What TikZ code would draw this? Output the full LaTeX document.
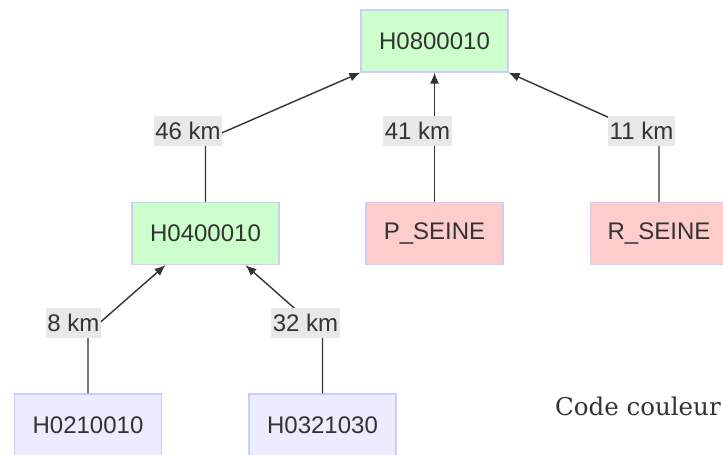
\documentclass[tikz,border=0pt]{standalone}
\usepackage{fontspec}
\setmainfont{Liberation Sans}
\newfontfamily\codefont{DejaVu Serif}
\usetikzlibrary{arrows.meta}
\definecolor{txt}{HTML}{333333}
\definecolor{bord}{HTML}{CCCCFF}
\definecolor{fgreen}{HTML}{CCFFCC}
\definecolor{fpink}{HTML}{FFCCCC}
\definecolor{flav}{HTML}{ECECFF}
\definecolor{lblbg}{HTML}{E8E8E8}
\tikzset{
  box/.style={draw=bord, line width=1.2pt, inner sep=0pt, text=txt,
    font=\fontsize{24}{28}\selectfont, minimum height=62pt},
  gbox/.style={box, fill=fgreen, minimum width=147pt},
  pbox/.style={box, fill=fpink, minimum width=137pt},
  lbox/.style={box, fill=flav, minimum width=147pt},
  edge/.style={draw=txt, line width=1.4pt, -{Latex[length=11pt,width=9pt]}},
  lbl/.style={fill=lblbg, text=txt, inner xsep=1.5pt, inner ysep=0pt,
    minimum height=30pt, font=\fontsize{24}{28}\selectfont}
}
\begin{document}
\begin{tikzpicture}[x=1pt,y=-1pt]
\clip (0,0) rectangle (723,455);
\fill[white] (0,0) rectangle (723,455);
% nodes
\node[gbox] (top) at (434.5,41) {H0800010};
\node[gbox] (h04) at (205.5,233.5) {H0400010};
\node[pbox] (ps) at (434.5,233.5) {P\_SEINE};
\node[pbox] (rs) at (659,233.5) {R\_SEINE};
\node[lbox] (h021) at (88,425) {H0210010};
\node[lbox] (h032) at (322.5,425) {H0321030};
\node[text=txt, font=\codefont\fontsize{24.5}{28}\selectfont, anchor=base west, inner sep=0pt] (code) at (555,415) {Code couleur};
% bend coordinates
\coordinate (b1) at (205.5,140);
\coordinate (b3) at (659,140);
\coordinate (b4) at (88,333);
\coordinate (b5) at (322.5,333);
% edges
\draw[edge] (h04.north) -- (b1) -- (top.south west);
\draw[edge] (ps.north) -- (top.south);
\draw[edge] (rs.north) -- (b3) -- (top.south east);
\draw[edge] (h021.north) -- (b4) -- ([xshift=-40pt]h04.south);
\draw[edge] (h032.north) -- (b5) -- ([xshift=40pt]h04.south);
% labels
\node[lbl] (l46) at (188,131) {46 km};
\node[lbl] (l41) at (417.5,131) {41 km};
\node[lbl] (l11) at (641.5,131) {11 km};
\node[lbl] (l8) at (73.5,323) {8 km};
\node[lbl] (l32) at (305.5,323) {32 km};
\end{tikzpicture}
\end{document}
